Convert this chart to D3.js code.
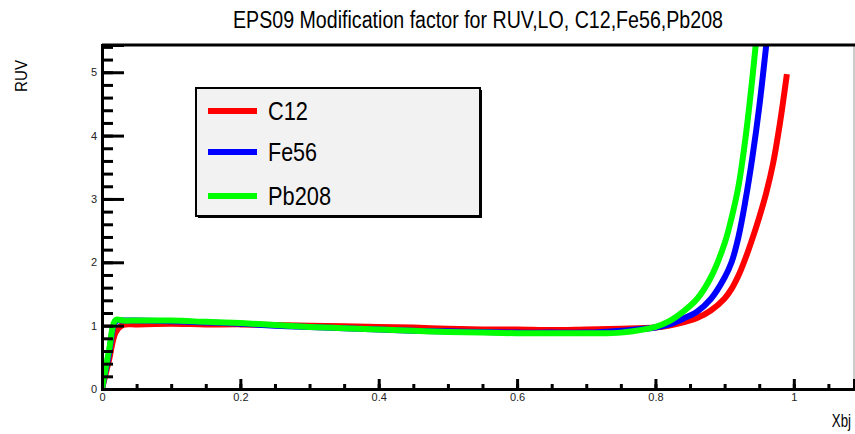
<!DOCTYPE html>
<html>
<head>
<script src="https://d3js.org/d3.v7.min.js"></script>
<style>
  body { margin: 0; background: #fff; }
  text { font-family: "Liberation Sans", Arial, sans-serif; }
</style>
</head>
<body>
<svg id="chart" width="855" height="434"></svg>
<script>
// x grid (Xbj) shared by all three curves
const xbj = [0, 0.01, 0.02, 0.03, 0.05, 0.1, 0.15, 0.2, 0.25, 0.3, 0.35, 0.4, 0.45, 0.5,
  0.55, 0.6, 0.65, 0.7, 0.75, 0.8, 0.82, 0.84, 0.86, 0.88, 0.9, 0.91, 0.92, 0.93,
  0.94, 0.95, 0.96, 0.97, 0.98, 0.99];

const ruvC12 = [0, 0.45, 0.9, 1.01, 1.02, 1.03, 1.02, 1.02, 1.01, 1.0, 0.99, 0.98, 0.97, 0.95,
  0.94, 0.94, 0.93, 0.94, 0.95, 0.97, 1.0, 1.05, 1.12, 1.24, 1.43, 1.58, 1.79, 2.06,
  2.37, 2.71, 3.09, 3.56, 4.2, 4.97];
const ruvFe56 = [0, 0.55, 1.07, 1.08, 1.08, 1.07, 1.05, 1.03, 1.0, 0.98, 0.96, 0.94, 0.92, 0.91,
  0.9, 0.89, 0.89, 0.89, 0.92, 0.97, 1.02, 1.11, 1.22, 1.42, 1.76, 2.0, 2.4, 2.97,
  3.65, 4.45, 5.41, 6.4, null, null];
const ruvPb208 = [0, 0.6, 1.09, 1.08, 1.08, 1.08, 1.06, 1.04, 1.01, 0.98, 0.96, 0.94, 0.92, 0.9,
  0.89, 0.88, 0.88, 0.88, 0.89, 0.98, 1.07, 1.22, 1.42, 1.76, 2.3, 2.7, 3.2, 3.95,
  4.9, 6.0, null, null, null, null];

const seriesNames = ["C12", "Fe56", "Pb208"];
const seriesColors = ["#ff0000", "#0000ff", "#00ff00"];
const seriesValues = [ruvC12, ruvFe56, ruvPb208];

const xTicks = [0, 0.2, 0.4, 0.6, 0.8, 1];
const yTicks = [0, 1, 2, 3, 4, 5];

const svg = d3.select("#chart");
const plotL = 102, plotR = 854, plotT = 45, plotB = 389;

const x = d3.scaleLinear().domain([0, 1.087]).range([plotL, plotR]);
const y = d3.scaleLinear().domain([0, 5.43]).range([plotB, plotT]);

// title (ROOT draws it in a condensed Helvetica, so squeeze it a bit)
svg.append("text")
  .attr("x", 233).attr("y", 28)
  .attr("font-size", 23)
  .attr("textLength", 490).attr("lengthAdjust", "spacingAndGlyphs")
  .text("EPS09 Modification factor for RUV,LO, C12,Fe56,Pb208");

// clip for curves
svg.append("clipPath").attr("id", "clip")
  .append("rect").attr("x", plotL).attr("y", plotT).attr("width", plotR - plotL).attr("height", plotB - plotT);

// curves
const line = d3.line()
  .defined(d => d[1] != null)
  .x(d => x(d[0]))
  .y(d => y(d[1]))
  .curve(d3.curveCatmullRom.alpha(0.5));

const curves = svg.append("g").attr("clip-path", "url(#clip)");
seriesValues.forEach(function (vals, i) {
  curves.append("path")
    .datum(xbj.map((v, j) => [v, vals[j]]))
    .attr("d", line)
    .attr("fill", "none")
    .attr("stroke", seriesColors[i])
    .attr("stroke-width", 6)
    .attr("stroke-linejoin", "round");
});

// frame
svg.append("line").attr("x1", plotR).attr("x2", plotR).attr("y1", plotT).attr("y2", plotB)
  .attr("stroke", "#999").attr("stroke-width", 1);
svg.append("line").attr("x1", plotL).attr("x2", 855).attr("y1", plotT).attr("y2", plotT)
  .attr("stroke", "black").attr("stroke-width", 3);

// y axis
const yMinor = svg.append("g").attr("transform", `translate(${plotL},0)`)
  .call(d3.axisLeft(y).tickValues(d3.range(0, 5.43, 0.2)).tickSize(-11).tickFormat(""));
const yAxis = svg.append("g").attr("transform", `translate(${plotL},0)`)
  .call(d3.axisLeft(y).tickValues(yTicks).tickSize(-22).tickPadding(5).tickFormat(d3.format("d")));

// x axis
const xMinor = svg.append("g").attr("transform", `translate(0,${plotB})`)
  .call(d3.axisBottom(x).tickValues(d3.range(0, 1.087, 0.05)).tickSize(-5).tickFormat(""));
const xAxis = svg.append("g").attr("transform", `translate(0,${plotB})`)
  .call(d3.axisBottom(x).tickValues(xTicks).tickSize(-10).tickPadding(4).tickFormat(d => d === 0 ? "0" : d === 1 ? "1" : d3.format(".1f")(d)));

[yMinor, yAxis, xMinor, xAxis].forEach(g => {
  g.select(".domain").attr("stroke", "black").attr("stroke-width", 3);
  g.selectAll(".tick line").attr("stroke", "black").attr("stroke-width", 3);
  g.selectAll(".tick text").attr("font-size", 11).attr("fill", "#222")
    .style("font-family", '"Liberation Sans", Arial, sans-serif');
});

// axis titles
svg.append("text")
  .attr("transform", "translate(27,60) rotate(-90)")
  .attr("text-anchor", "end")
  .attr("font-size", 17)
  .attr("textLength", 32).attr("lengthAdjust", "spacingAndGlyphs")
  .text("RUV");
svg.append("text")
  .attr("transform", "translate(851,427) scale(0.7,1)")
  .attr("text-anchor", "end")
  .attr("font-size", 19)
  .text("Xbj");

// legend
const legend = svg.append("g");
legend.append("rect")
  .attr("x", 198).attr("y", 90).attr("width", 284).attr("height", 128)
  .attr("fill", "black");
legend.append("rect")
  .attr("x", 196).attr("y", 88).attr("width", 284).attr("height", 128)
  .attr("fill", "#f2f2f2").attr("stroke", "black").attr("stroke-width", 2);
const legendY = [111, 152, 196];
const legendTextW = [40, 49, 63];
seriesNames.forEach(function (name, i) {
  legend.append("line")
    .attr("x1", 208).attr("x2", 257)
    .attr("y1", legendY[i]).attr("y2", legendY[i])
    .attr("stroke", seriesColors[i]).attr("stroke-width", 6);
  legend.append("text")
    .attr("x", 268).attr("y", legendY[i] + 9)
    .attr("font-size", 25)
    .attr("textLength", legendTextW[i]).attr("lengthAdjust", "spacingAndGlyphs")
    .text(name);
});
</script>
</body>
</html>
